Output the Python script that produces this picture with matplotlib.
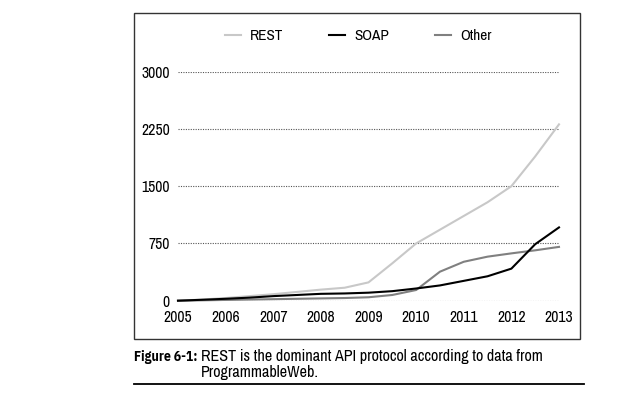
import matplotlib
matplotlib.use("Agg")
import matplotlib.pyplot as plt
from matplotlib.patches import Rectangle
from matplotlib.lines import Line2D

plt.rcParams["font.family"] = ["Archivo Narrow", "DejaVu Sans"]

# half-year readings, 2005 .. 2013
years = [2005 + 0.5 * i for i in range(17)]
rest = [0, 15, 35, 60, 85, 115, 145, 170, 240, 490, 750, 930, 1110, 1290, 1500, 1890, 2310]
soap = [0, 12, 25, 40, 60, 75, 90, 95, 105, 125, 160, 200, 260, 320, 420, 740, 960]
other = [0, 5, 10, 15, 20, 25, 30, 35, 45, 75, 140, 380, 510, 577, 620, 660, 705]

x_ticks = list(range(2005, 2014))
y_ticks = [0, 750, 1500, 2250, 3000]

W, H = 641, 397
fig = plt.figure(figsize=(W / 100, H / 100), dpi=100)

# outer frame around chart
fig.patches.append(Rectangle((134 / W, 1 - 339 / H), (580 - 134) / W, (339 - 13) / H,
                             transform=fig.transFigure, fill=False,
                             edgecolor="#333333", linewidth=1.0))

ax = fig.add_axes([178 / W, 1 - 300.7 / H, (559 - 178) / W, (300.7 - 71.7) / H])
ax.set_xlim(2005, 2013)
ax.set_ylim(0, 3000)

for v in y_ticks:
    ax.axhline(v, color="#555555", linestyle=(0, (1, 1.2)), linewidth=0.8, zorder=1)

ax.plot(years, rest, color="#c8c8c8", linewidth=1.5, label="REST", clip_on=False, zorder=3)
ax.plot(years, soap, color="black", linewidth=1.5, label="SOAP", clip_on=False, zorder=4)
ax.plot(years, other, color="#808080", linewidth=1.5, label="Other", clip_on=False, zorder=3)

for s in ax.spines.values():
    s.set_visible(False)
ax.set_xticks(x_ticks)
ax.set_xticklabels([str(y) for y in x_ticks], fontsize=11.3)
ax.set_yticks(y_ticks)
ax.set_yticklabels([str(v) for v in y_ticks], fontsize=11.3)
ax.tick_params(axis="y", length=0, pad=6)
ax.tick_params(axis="x", length=0, pad=7)

handles = [Line2D([], [], color="#c8c8c8", lw=1.5),
           Line2D([], [], color="black", lw=1.5),
           Line2D([], [], color="#808080", lw=1.5)]
fig.legend(handles, ["REST", "SOAP", "Other"], loc="center", ncol=3,
           bbox_to_anchor=(358 / W, 1 - 36 / H), frameon=False, fontsize=11,
           handlelength=1.05, columnspacing=3.0, handletextpad=0.6)

# caption
fig.text(197 / W, 1 - 357 / H, "Figure 6-1:", fontsize=9.8, fontweight="bold",
         family="IBM Plex Sans Condensed", va="center", ha="right")
fig.text(201 / W, 1 - 357 / H, "REST is the dominant API protocol according to data from",
         fontsize=11.6, va="center")
fig.text(201 / W, 1 - 373 / H, "ProgrammableWeb.", fontsize=11.6, va="center")
fig.add_artist(Line2D([134 / W, 584 / W], [1 - 384 / H, 1 - 384 / H],
                      transform=fig.transFigure, color="black", linewidth=1.3))

fig.savefig("out.png", dpi=100)
